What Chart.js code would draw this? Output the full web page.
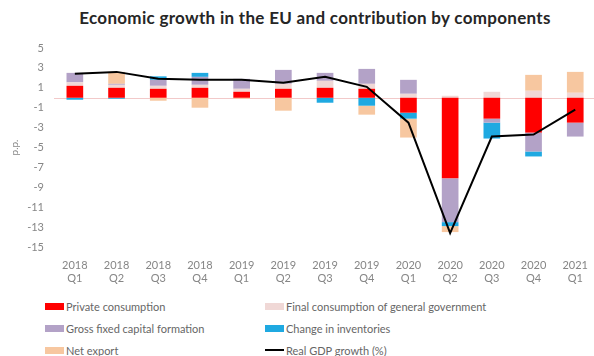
<!DOCTYPE html>
<html>
<head>
<meta charset="utf-8">
<script src="https://cdn.jsdelivr.net/npm/chart.js@4.4.1/dist/chart.umd.min.js"></script>
<style>
    html, body { margin: 0; padding: 0; width: 594px; height: 356px; overflow: hidden; background: #fff; }
    body { position: relative; font-family: Lato, "Open Sans", sans-serif; }
    #title {
        position: absolute; left: 40px; width: 550px; top: 7px;
        text-align: center; font-weight: bold; font-size: 17px; letter-spacing: 0.3px; color: #262626;
    }
    #wrap { position: absolute; left: 0; top: 0; width: 600px; height: 292px; }
    #legend {
        position: absolute; left: 45px; top: 298px; width: 540px;
        display: grid; grid-template-columns: 220px 320px; row-gap: 6px;
        font-size: 11px; color: #666666;
    }
    .item { display: flex; align-items: center; height: 16px; white-space: nowrap; }
    .sw { width: 19px; height: 7px; margin-right: 2px; }
    .sw.line { height: 2px; }
</style>
</head>
<body>
<div id="title">Economic growth in the EU and contribution by components</div>
<div id="wrap"><canvas id="growthChart"></canvas></div>
<div id="legend"></div>
<script>
const quarters = [
    ['2018', 'Q1'], ['2018', 'Q2'], ['2018', 'Q3'], ['2018', 'Q4'],
    ['2019', 'Q1'], ['2019', 'Q2'], ['2019', 'Q3'], ['2019', 'Q4'],
    ['2020', 'Q1'], ['2020', 'Q2'], ['2020', 'Q3'], ['2020', 'Q4'],
    ['2021', 'Q1']
];

// contributions, p.p.
const privateConsumption = [1.2, 1.0, 0.9, 1.0, 0.6, 0.9, 1.0, 0.9, -1.5, -8.1, -2.1, -3.5, -2.5];
const governmentConsumption = [0.35, 0.3, 0.3, 0.3, 0.3, 0.5, 0.7, 0.5, 0.4, 0.2, 0.6, 0.7, 0.5];
const grossFixedCapital = [0.95, 0.1, 0.6, 0.8, 1.0, 1.4, 0.8, 1.5, 1.4, -4.4, -0.4, -1.9, -1.4];
const inventories = [-0.2, -0.1, 0.35, 0.4, 0, 0, -0.5, -0.8, -0.6, -0.4, -1.6, -0.5, 0];
const netExport = [0, 1.2, -0.3, -1.0, -0.1, -1.3, 0, -0.9, -1.9, -0.6, 0, 1.6, 2.1];
const gdpGrowth = [2.4, 2.6, 1.9, 1.8, 1.8, 1.5, 2.1, 1.1, -2.5, -13.6, -3.9, -3.7, -1.2];

const yTicks = { min: -15, max: 5, step: 2 };

const series = [
    { label: 'Private consumption', data: privateConsumption, color: '#ff0000' },
    { label: 'Final consumption of general government', data: governmentConsumption, color: '#f0d8d6' },
    { label: 'Gross fixed capital formation', data: grossFixedCapital, color: '#b3a2c7' },
    { label: 'Change in inventories', data: inventories, color: '#1fa9e1' },
    { label: 'Net export', data: netExport, color: '#f7c7a0' }
];

const datasets = series.map(s => ({
    type: 'bar',
    label: s.label,
    data: s.data,
    backgroundColor: s.color,
    stack: 'components',
    order: 1,
    barPercentage: 0.8,
    categoryPercentage: 0.5
}));

datasets.push({
    type: 'line',
    label: 'Real GDP growth (%)',
    data: gdpGrowth,
    borderColor: '#000000',
    borderWidth: 2,
    pointRadius: 0,
    tension: 0,
    fill: false,
    stack: 'gdp',
    order: 0
});

// thin axis line at zero
const zeroLine = {
    id: 'zeroLine',
    beforeDatasetsDraw(chart) {
        const { ctx, chartArea, scales } = chart;
        const y = Math.round(scales.y.getPixelForValue(0)) + 0.5;
        ctx.save();
        ctx.strokeStyle = '#f2c9c9';
        ctx.lineWidth = 1;
        ctx.beginPath();
        ctx.moveTo(chartArea.left, y);
        ctx.lineTo(chartArea.right, y);
        ctx.stroke();
        ctx.restore();
    }
};

const tickFont = { family: 'Lato', size: 11 };

new Chart(document.getElementById('growthChart').getContext('2d'), {
    type: 'bar',
    data: { labels: quarters, datasets: datasets },
    options: {
        responsive: true,
        maintainAspectRatio: false,
        animation: false,
        layout: { padding: { top: 48, right: 0, bottom: 0, left: 0 } },
        plugins: {
            legend: { display: false },
            tooltip: { enabled: false }
        },
        scales: {
            x: {
                stacked: true,
                grid: { display: false, drawTicks: false },
                border: { display: false },
                ticks: { color: '#868686', font: tickFont, padding: 12, maxRotation: 0, autoSkip: false },
                afterFit: s => { s.height = 45; }
            },
            y: {
                stacked: true,
                min: yTicks.min,
                max: yTicks.max,
                grid: { display: false, drawTicks: false },
                border: { display: false },
                ticks: { stepSize: yTicks.step, color: '#868686', font: tickFont, padding: 10 },
                title: { display: true, text: 'p.p.', color: '#868686', font: { family: 'Lato', size: 10 }, padding: { top: 9, bottom: 0 } },
                afterFit: s => { s.width = 54; }
            }
        }
    },
    plugins: [zeroLine]
});

// two-column legend under the plot
const legend = document.getElementById('legend');
datasets.forEach(d => {
    const item = document.createElement('div');
    item.className = 'item';
    const sw = document.createElement('span');
    sw.className = d.type === 'line' ? 'sw line' : 'sw';
    sw.style.background = d.type === 'line' ? d.borderColor : d.backgroundColor;
    item.appendChild(sw);
    item.appendChild(document.createTextNode(d.label));
    legend.appendChild(item);
});
</script>
</body>
</html>
